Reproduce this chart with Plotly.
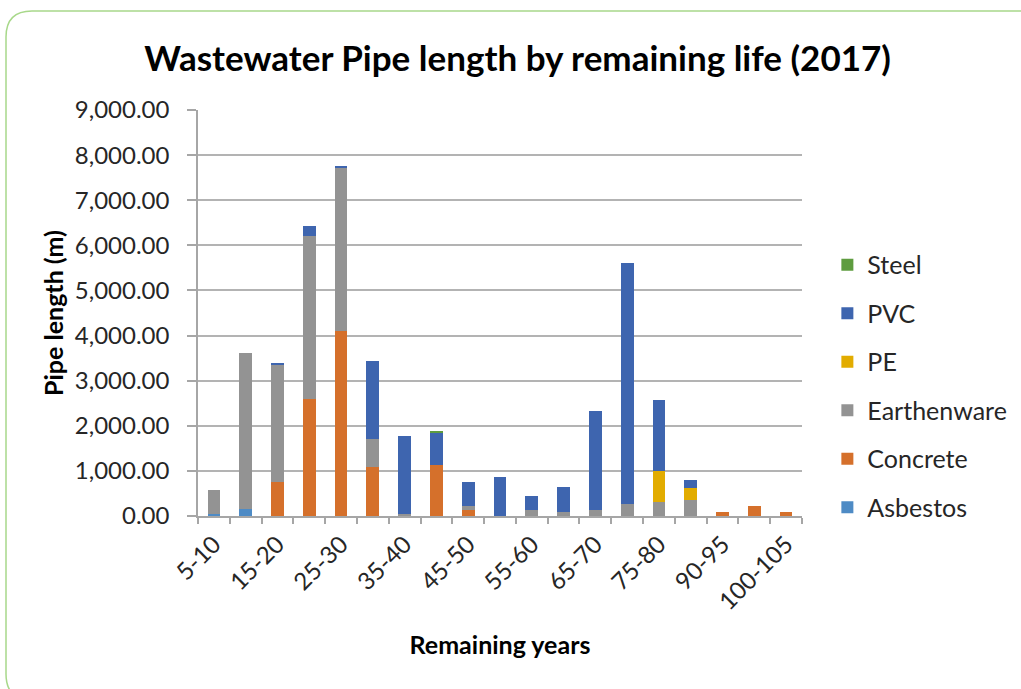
import plotly.graph_objects as go

categories = ["5-10", "10-15", "15-20", "20-25", "25-30", "30-35", "35-40", "40-45",
              "45-50", "50-55", "55-60", "60-65", "65-70", "70-75", "75-80", "80-90",
              "90-95", "95-100", "100-105"]
shown_labels = ["5-10", "15-20", "25-30", "35-40", "45-50", "55-60", "65-70",
                "75-80", "90-95", "100-105"]

asbestos    = [35, 148, 0, 0, 0, 0, 0, 0, 0, 0, 0, 0, 0, 0, 0, 0, 0, 0, 0]
concrete    = [0, 0, 754, 2596, 4112, 1087, 0, 1123, 126, 0, 0, 0, 0, 0, 0, 0, 89, 229, 89]
earthenware = [550, 3476, 2611, 3617, 3610, 629, 40, 0, 90, 0, 126, 97, 126, 259, 318, 348, 0, 0, 0]
pe          = [0, 0, 0, 0, 0, 0, 0, 0, 0, 0, 0, 0, 0, 0, 681, 273, 0, 0, 0]
pvc         = [0, 0, 30, 207, 30, 1709, 1735, 728, 542, 870, 313, 542, 2200, 5355, 1568, 178, 0, 0, 0]
steel       = [0, 0, 0, 0, 0, 0, 0, 25, 0, 0, 0, 0, 0, 0, 0, 0, 0, 0, 0]

series = [
    ("Asbestos", asbestos, "#4E8BC5"),
    ("Concrete", concrete, "#D5702B"),
    ("Earthenware", earthenware, "#939393"),
    ("PE", pe, "#E2AC00"),
    ("PVC", pvc, "#3E65AF"),
    ("Steel", steel, "#5E9C3F"),
]

FONT = "Lato"
TXT = "#262626"

fig = go.Figure()
n = len(series)
for i, (name, vals, col) in enumerate(series):
    fig.add_trace(go.Bar(x=categories, y=vals, name=name, marker_color=col,
                         marker_line_width=0, legendgroup=name, legendrank=n - i))

W, H = 1021, 689
ML, MR, MT, MB = 198, 219, 110, 173
PW, PH = W - ML - MR, H - MT - MB


def P(x, y):
    return f"{(x - ML) / PW:.5f},{(H - MB - y) / PH:.5f}"


# rounded frame around the chart
x0, y0, x1, y1, r = 6, 11, 1045, 700, 26
path = (f"M{P(x0, y0 + r)} Q{P(x0, y0)} {P(x0 + r, y0)} L{P(x1 - r, y0)} "
        f"Q{P(x1, y0)} {P(x1, y0 + r)} L{P(x1, y1 - r)} Q{P(x1, y1)} {P(x1 - r, y1)} "
        f"L{P(x0 + r, y1)} Q{P(x0, y1)} {P(x0, y1 - r)} Z")

fig.update_layout(
    width=W, height=H,
    margin=dict(l=ML, r=MR, t=MT, b=MB, pad=0, autoexpand=False),
    paper_bgcolor="white", plot_bgcolor="white",
    barmode="stack", bargap=0.6,
    font=dict(family=FONT, color=TXT, size=24),
    title=dict(text="<b>Wastewater Pipe length by remaining life (2017)</b>",
               x=0.507, xanchor="center", y=0.915, yanchor="middle",
               font=dict(family=FONT, size=35, color="#000000")),
    legend=dict(x=1.042, xanchor="left", y=0.675, yanchor="top",
                traceorder="grouped", tracegroupgap=13,
                font=dict(family=FONT, size=25, color=TXT),
                bgcolor="rgba(0,0,0,0)"),
    shapes=[dict(type="path", xref="paper", yref="paper", path=path,
                 line=dict(color="#A8D88A", width=1.5), layer="below")],
)

fig.update_xaxes(
    type="category", categoryorder="array", categoryarray=categories,
    tickmode="array", tickvals=categories,
    ticktext=[c if c in shown_labels else "" for c in categories],
    tickson="boundaries", ticks="outside", ticklen=6, tickcolor="#A6A6A6", tickwidth=1.5,
    tickangle=-45, tickfont=dict(family=FONT, size=24, color=TXT),
    ticklabelstandoff=3,
    showline=True, linecolor="#A6A6A6", linewidth=1.5, showgrid=False, automargin=False,
    title=dict(text="<b>Remaining years</b>", font=dict(family=FONT, size=25, color="#000000"),
               standoff=23),
)
fig.update_yaxes(
    range=[0, 9000], dtick=1000, tickformat=",.2f",
    ticks="outside", ticklen=9, tickcolor="#A6A6A6", tickwidth=1.5,
    ticklabelstandoff=13,
    tickfont=dict(family=FONT, size=24, color=TXT),
    showline=True, linecolor="#A6A6A6", linewidth=1.5, automargin=False,
    showgrid=True, gridcolor="#B3B3B3", gridwidth=1.5, zeroline=False,
    title=dict(text="<b>Pipe length (m)</b>", font=dict(family=FONT, size=25, color="#000000"),
               standoff=4),
)

fig.write_html("out.html", config={"displayModeBar": False},
               post_script="document.body.style.margin='0';")
